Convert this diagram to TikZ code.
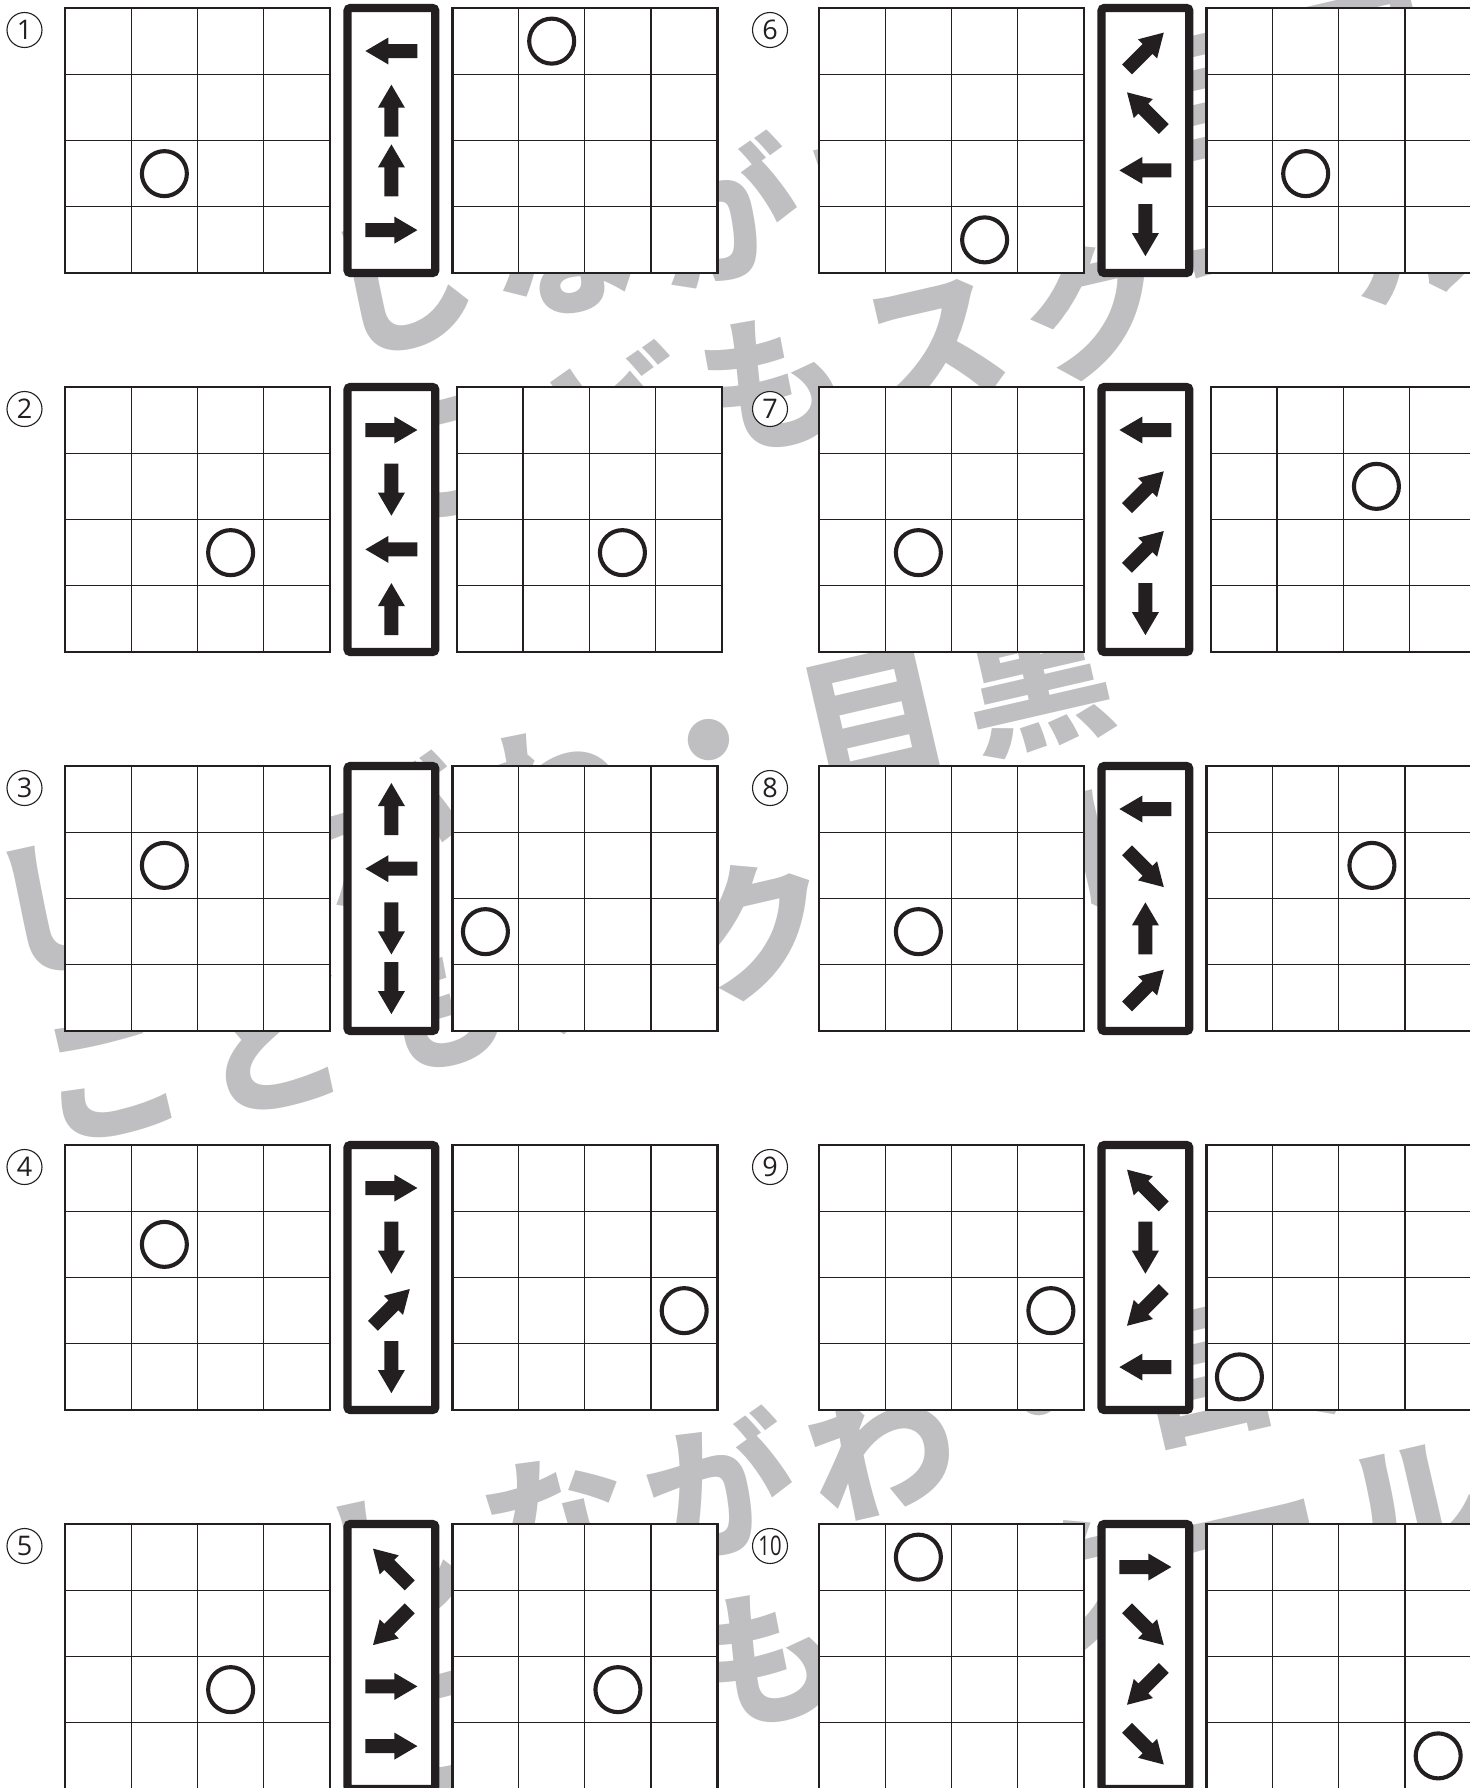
\documentclass[tikz,border=0pt]{standalone}
\usepackage{fontspec}
\newfontfamily\wmfont{Noto Sans CJK JP}
\newfontfamily\numfont{Open Sans}
\definecolor{wmgray}{RGB}{191,191,193}
\definecolor{ink}{RGB}{35,31,32}
\tikzset{
  x=0.5pt, y=-0.5pt,
  blockarrow/.pic={\fill[ink] (-26,-7) -- (3,-7) -- (3,-13.5) -- (26,0) -- (3,13.5) -- (3,7) -- (-26,7) -- cycle;},
  innerline/.style={draw=ink, line width=0.65pt},
  outerline/.style={draw=ink, line width=1.2pt},
  movebox/.style={draw=ink, line width=4.15pt, rounded corners=1.5pt, fill=white},
  ring/.style={draw=ink, line width=2.05pt},
  numlabel/.style={circle, draw=ink, line width=0.55pt, fill=white, minimum size=17.5pt, inner sep=0pt,
    font=\numfont\fontsize{13.5}{13.5}\selectfont, text=ink},
  wm/.style={font=\wmfont\bfseries\fontsize{74}{74}\selectfont, text=wmgray, rotate=13, inner sep=0pt}
}
\newcommand\wmline[4]{%
  \foreach \c [count=\k from 0] in {#3}
    \node[wm] (wm#4-\k) at ({#1+162*\k},{#2-37*\k}) {\c};}
\newcommand\gridbox[2]{%
  \fill[white] (#1,#2) rectangle ++(265,265);
  \foreach \i in {1,2,3} {
    \draw[innerline] ({#1+66.25*\i},#2) -- ++(0,265);
    \draw[innerline] (#1,{#2+66.25*\i}) -- ++(265,0);
  }
  \draw[outerline] (#1,#2) rectangle ++(265,265);}
\newcommand\puzzle[9]{%
  \begin{scope}[shift={(#2,#3)}]
    \gridbox{65}{0}
    \draw[movebox] (347.5,0) rectangle (435.3,265);
    \foreach \a [count=\k from 0] in {#9}
      \path (391.4,{43+59.7*\k}) pic[rotate=\a]{blockarrow};
    \gridbox{452.3+#4}{0}
    \draw[ring] ({65+66.25*(#5-0.5)},{66.25*(#6-0.5)}) circle[radius=22.5];
    \draw[ring] ({452.3+#4+66.25*(#7-0.5)},{66.25*(#8-0.5)}) circle[radius=22.5];
    \node[numlabel] (n#1) at ({24.5-0.01127*#2},22) {\ifnum#1>9 \scalebox{0.75}[1]{#1}\else #1\fi};
  \end{scope}}
\begin{document}
\begin{tikzpicture}
\useasboundingbox (0,0) rectangle (1470,1788);
\fill[white] (0,0) rectangle (1470,1788);
% watermark
\wmline{400}{285}{し,な,が,わ,・,目,黒}{a}
\wmline{448}{457}{こ,ど,も,ス,ク,ー,ル}{b}
\wmline{65}{905}{し,な,が,わ,・,目,黒}{c}
\wmline{110}{1077}{こ,ど,も,ス,ク,ー,ル}{d}
\wmline{395}{1560}{し,な,が,わ,・,目,黒}{e}
\wmline{443}{1732}{こ,ど,も,ス,ク,ー,ル}{f}
% puzzles
\puzzle{1}{0}{8}{0}{2}{3}{2}{1}{180,90,90,0}
\puzzle{2}{0}{387}{4.5}{3}{3}{3}{3}{0,270,180,90}
\puzzle{3}{0}{766}{0}{2}{2}{1}{3}{90,180,270,270}
\puzzle{4}{0}{1145}{0}{2}{2}{4}{3}{0,270,45,270}
\puzzle{5}{0}{1524}{0}{3}{3}{3}{3}{135,225,0,0}
\puzzle{6}{754}{8}{0}{3}{4}{2}{3}{45,135,180,270}
\puzzle{7}{754}{387}{4.5}{2}{3}{3}{2}{180,45,45,270}
\puzzle{8}{754}{766}{0}{2}{3}{3}{2}{180,315,90,45}
\puzzle{9}{754}{1145}{0}{4}{3}{1}{4}{135,270,225,180}
\puzzle{10}{754}{1524}{0}{2}{1}{4}{4}{0,315,225,315}
\end{tikzpicture}
\end{document}
